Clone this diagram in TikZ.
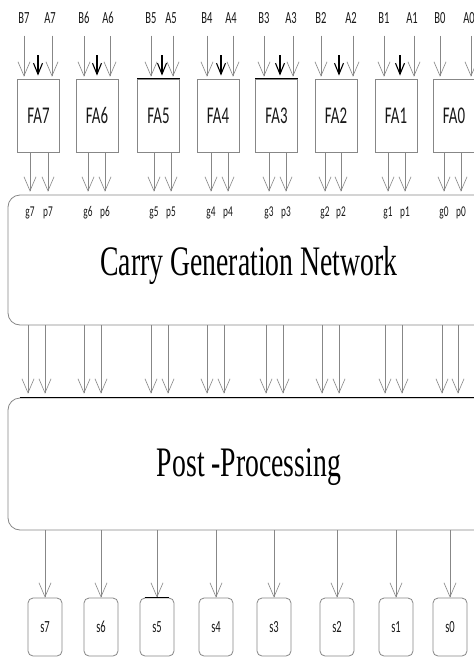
\documentclass[tikz,border=0pt]{standalone}
\usepackage{fontspec}
\usetikzlibrary{arrows.meta,calc}
\newfontfamily\labelfont[FakeStretch=0.62]{Carlito}
\newfontfamily\blockfont[FakeStretch=0.66]{Liberation Serif}
\definecolor{wiregray}{RGB}{135,135,135}
\definecolor{inkgray}{RGB}{25,25,25}

\tikzset{
  wire/.style={draw=wiregray, line width=0.6pt, -{Straight Barb[length=14pt,width=12pt]}},
  carry/.style={draw=black, line width=1.1pt, -{Straight Barb[length=11pt,width=9pt]}},
  fabox/.style={draw=wiregray, line width=0.8pt, minimum width=42pt, minimum height=73pt,
    inner sep=0pt, font=\labelfont\fontsize{24}{24}\selectfont, text=inkgray},
  bigblock/.style={draw=wiregray, line width=0.8pt, rounded corners=12pt, minimum width=482pt,
    inner sep=0pt, font=\blockfont\fontsize{42}{42}\selectfont, text=black},
  sumbox/.style={draw=wiregray, line width=0.8pt, rounded corners=5pt, minimum width=34pt,
    minimum height=58pt, inner sep=0pt, font=\labelfont\fontsize{17}{17}\selectfont, text=inkgray},
  bitlabel/.style={inner sep=0pt, text=inkgray, font=\labelfont\fontsize{17}{17}\selectfont},
  gplabel/.style={inner sep=0pt, text=inkgray, font=\labelfont\fontsize{15}{15}\selectfont}
}

\begin{document}
\begin{tikzpicture}[x=1pt, y=-1pt]
\fill[white] (0,0) rectangle (474,657);
\clip (0,0) rectangle (474,657);

% the two wide blocks
\node[bigblock, minimum height=130pt, text height=40pt] (cgn) at (249,260) {Carry Generation Network};
\node[bigblock, minimum height=132pt, text height=34pt] (pp) at (249,464) {Post -Processing};
\draw[black, line width=1.4pt] ([xshift=12pt]pp.north west) -- (pp.north east);

% one slice per bit: adder, inputs, g/p, sum
\foreach \i/\fx/\bx/\mx/\ax/\gx/\px/\cx/\dx/\sx in {
  7/38.5/27/38/52/30/48/28/45/45,
  6/97/87/97/110/88/105/84/101/101,
  5/158.5/154/162/173/154/171/151/168/157,
  4/218/210/221/233/211/228/207/224/216,
  3/276.5/267/280/293/269/286/266/283/274,
  2/336/324/339/353/325/341/322/339/337,
  1/396/387/400/414/388/405/385/402/396,
  0/454/443/0/471/444/461/442/458/450}{
  \node[fabox] (fa\i) at (\fx,115.5) {FA\i};
  \node[bitlabel] (b\i) at (\bx-3,18) {B\i};
  \node[bitlabel] (a\i) at (\ax-2,18) {A\i};
  \draw[wire, shorten <=12pt, shorten >=2pt] (b\i |- b\i.south) -- (b\i |- fa\i.north);
  \draw[wire, shorten <=12pt, shorten >=2pt] ($(a\i.south)+(2,0)$) -- ($(a\i |- fa\i.north)+(2,0)$);
  \ifnum\i>0
    \coordinate (cin\i) at (\mx,55);
    \draw[carry, shorten >=3pt] (cin\i) -- (cin\i |- fa\i.north);
  \fi
  \node[gplabel] (g\i) at (\gx,213) {g\i};
  \node[gplabel] (p\i) at (\px,213) {p\i};
  \draw[wire, shorten >=3pt] (fa\i.south -| g\i) -- (cgn.north -| g\i);
  \draw[wire, shorten >=3pt] (fa\i.south -| p\i) -- (cgn.north -| p\i);
  \coordinate (cg\i) at (\cx,0);
  \coordinate (cp\i) at (\dx,0);
  \draw[wire, shorten >=4pt] (cgn.south -| cg\i) -- (pp.north -| cg\i);
  \draw[wire, shorten >=4pt] (cgn.south -| cp\i) -- (pp.north -| cp\i);
  \node[sumbox] (s\i) at (\sx,627) {s\i};
  \draw[wire] (pp.south -| s\i) -- (s\i);
}

% darker top edges
\draw[black, line width=1.2pt] (fa5.north west) -- (fa5.north east);
\draw[black, line width=1.2pt] (fa3.north west) -- (fa3.north east);
\draw[black, line width=1.2pt] ([xshift=5pt]s5.north west) -- ([xshift=-5pt]s5.north east);
\end{tikzpicture}
\end{document}
